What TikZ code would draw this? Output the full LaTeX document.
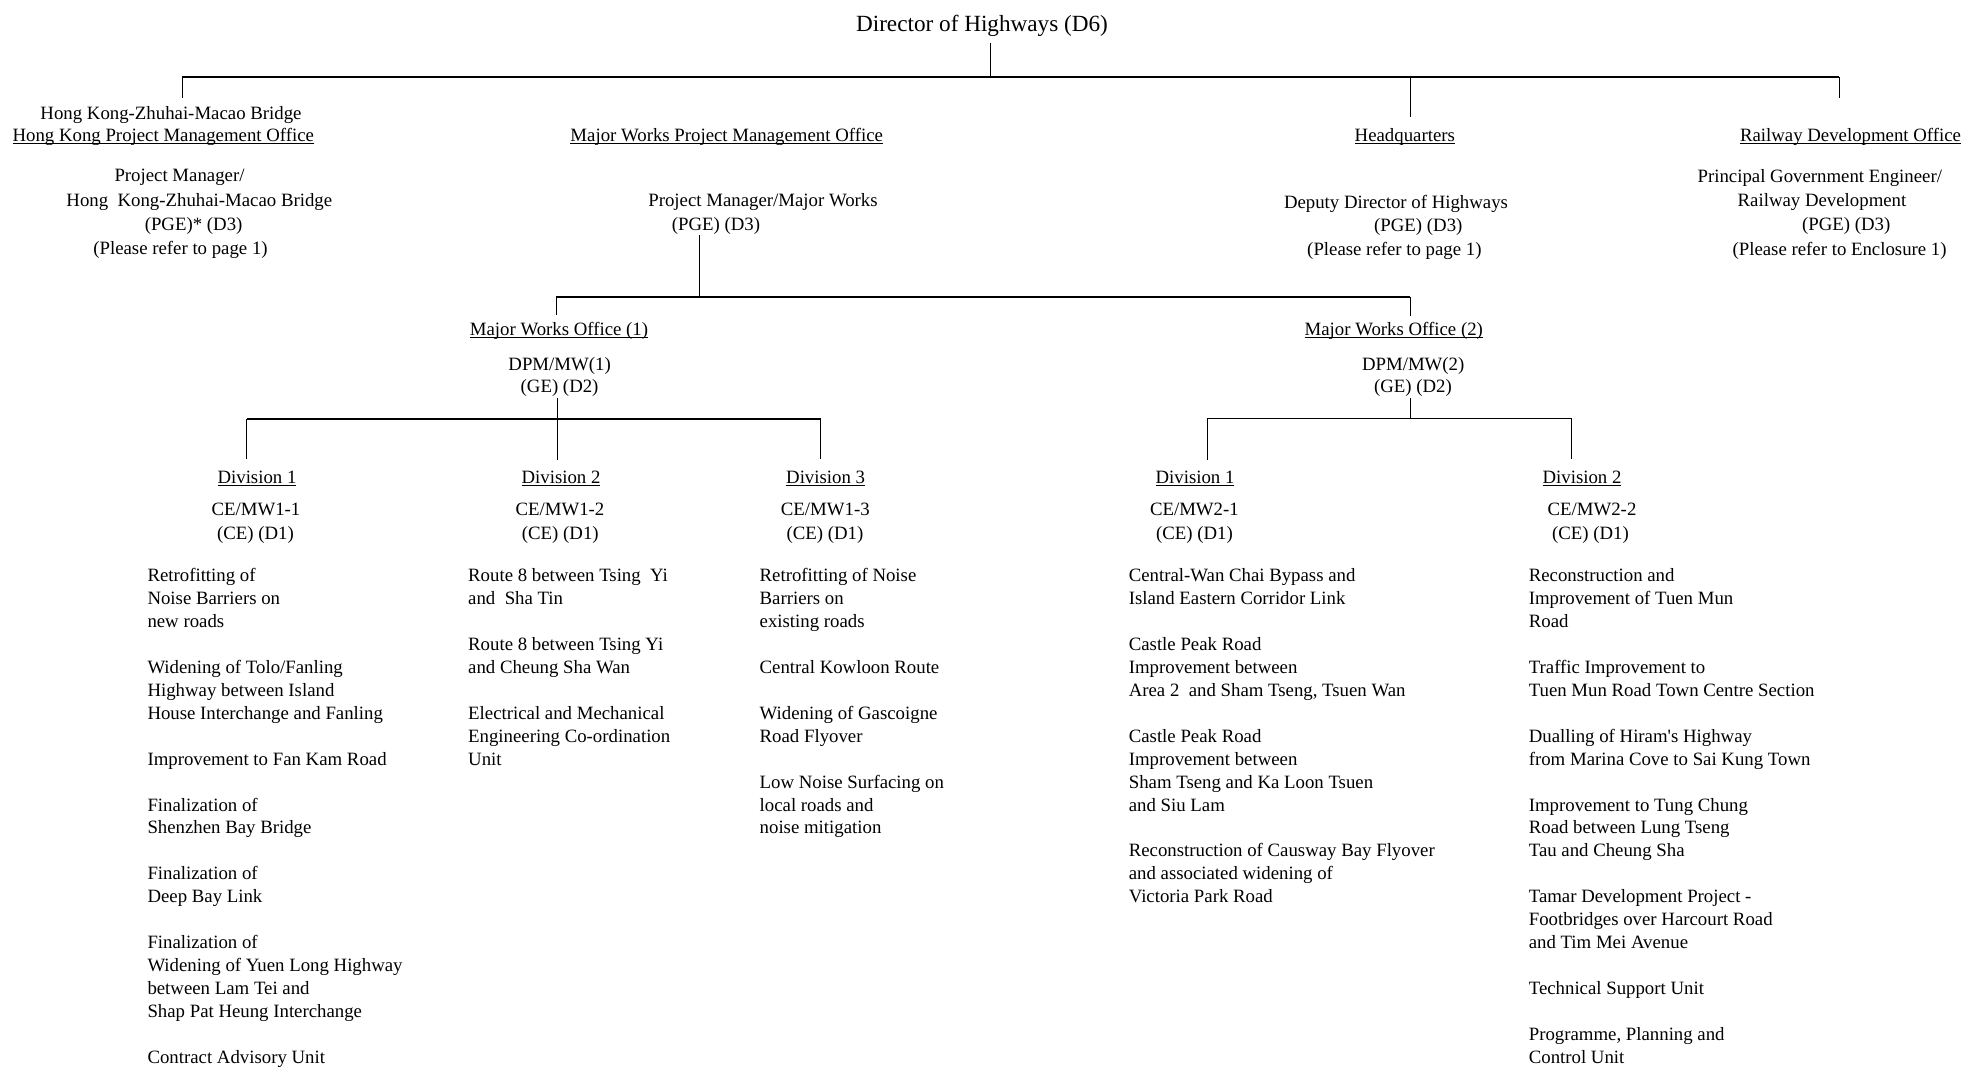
\documentclass[tikz,border=0pt]{standalone}
\usepackage{fontspec}
\setmainfont{Liberation Serif}
\newsavebox{\ulbox}
\newcommand{\undl}[1]{\sbox{\ulbox}{#1}\rlap{\rule[-2.4pt]{\wd\ulbox}{0.9pt}}\usebox{\ulbox}}
\newcommand{\itemlist}[1]{\parbox[t]{340pt}{\raggedright #1}}
\newcommand{\gap}{\\[22.93pt]}
\tikzset{
  hd/.style={anchor=base, inner sep=0pt, font=\fontsize{18.8}{22.93}\selectfont},
  lst/.style={anchor=base west, inner sep=0pt, font=\fontsize{18.8}{22.93}\selectfont},
  ttl/.style={anchor=base, inner sep=0pt, font=\fontsize{23.2}{28}\selectfont},
  bar/.style={line width=1.7pt},
  drop/.style={line width=1pt},
}
\begin{document}
\begin{tikzpicture}[x=1pt,y=-1pt]
\useasboundingbox (0,0) rectangle (1963,1066);
% title
\node[ttl] (d6) at (982,31.7) {Director of Highways (D6)};
% level 2 headers
\node[hd] (hk1) at (171,119.2) {Hong Kong-Zhuhai-Macao Bridge};
\node[hd] (hk2) at (163.3,141.5) {\undl{Hong Kong Project Management Office}};
\node[hd] (hk3) at (179.5,181.5) {Project Manager/};
\node[hd] (hk4) at (199.3,206.5) {Hong~ Kong-Zhuhai-Macao Bridge};
\node[hd] (hk5) at (193.6,230.5) {(PGE)* (D3)};
\node[hd] (hk6) at (180.5,254.8) {(Please refer to page 1)};
\node[hd] (mw1) at (726.7,141.5) {\undl{Major Works Project Management Office}};
\node[hd] (mw2) at (763,206.5) {Project Manager/Major Works};
\node[hd] (mw3) at (715.9,230.5) {(PGE) (D3)};
\node[hd] (hq1) at (1404.8,141.5) {\undl{Headquarters}};
\node[hd] (hq2) at (1396,208) {Deputy Director of Highways};
\node[hd] (hq3) at (1418.3,231.5) {(PGE) (D3)};
\node[hd] (hq4) at (1394.4,255.8) {(Please refer to page 1)};
\node[hd] (rd1) at (1850.5,141.5) {\undl{Railway Development Office}};
\node[hd] (rd2) at (1819.8,182.5) {Principal Government Engineer/};
\node[hd] (rd3) at (1822,206.5) {Railway Development};
\node[hd] (rd4) at (1846.2,230.5) {(PGE) (D3)};
\node[hd] (rd5) at (1839.6,255.8) {(Please refer to Enclosure 1)};
% major works offices
\node[hd] (o11) at (559,335.3) {\undl{Major Works Office (1)}};
\node[hd] (o12) at (559.6,370.3) {DPM/MW(1)};
\node[hd] (o13) at (559.6,392.8) {(GE) (D2)};
\node[hd] (o21) at (1393.8,335.3) {\undl{Major Works Office (2)}};
\node[hd] (o22) at (1413.2,370.3) {DPM/MW(2)};
\node[hd] (o23) at (1412.9,392.8) {(GE) (D2)};
% divisions
\node[hd] (d11a) at (257,483.8) {\undl{Division 1}};
\node[hd] (d11b) at (256,515.8) {CE/MW1-1};
\node[hd] (d11c) at (255.4,539.2) {(CE) (D1)};
\node[hd] (d12a) at (561,483.8) {\undl{Division 2}};
\node[hd] (d12b) at (560,515.8) {CE/MW1-2};
\node[hd] (d12c) at (560.3,539.2) {(CE) (D1)};
\node[hd] (d13a) at (825.6,483.8) {\undl{Division 3}};
\node[hd] (d13b) at (825.3,515.8) {CE/MW1-3};
\node[hd] (d13c) at (825,539.2) {(CE) (D1)};
\node[hd] (d21a) at (1195,483.8) {\undl{Division 1}};
\node[hd] (d21b) at (1194.4,515.8) {CE/MW2-1};
\node[hd] (d21c) at (1194.4,539.2) {(CE) (D1)};
\node[hd] (d22a) at (1582,483.8) {\undl{Division 2}};
\node[hd] (d22b) at (1592,515.8) {CE/MW2-2};
\node[hd] (d22c) at (1590.4,539.2) {(CE) (D1)};
% item lists
\node[lst] (l11) at (147.3,581.7) {\itemlist{Retrofitting of\\ Noise Barriers on\\ new roads\gap
Widening of Tolo/Fanling\\ Highway between Island\\ House Interchange and Fanling\gap
Improvement to Fan Kam Road\gap
Finalization of\\ Shenzhen Bay Bridge\gap
Finalization of\\ Deep Bay Link\gap
Finalization of\\ Widening of Yuen Long Highway\\ between Lam Tei and\\ Shap Pat Heung Interchange\gap
Contract Advisory Unit}};
\node[lst] (l12) at (468,581.7) {\itemlist{Route 8 between Tsing~ Yi\\ and~ Sha Tin\gap
Route 8 between Tsing Yi\\ and Cheung Sha Wan\gap
Electrical and Mechanical\\ Engineering Co-ordination\\ Unit}};
\node[lst] (l13) at (759.5,581.7) {\itemlist{Retrofitting of Noise\\ Barriers on\\ existing roads\gap
Central Kowloon Route\gap
Widening of Gascoigne\\ Road Flyover\gap
Low Noise Surfacing on\\ local roads and\\ noise mitigation}};
\node[lst] (l21) at (1128.6,581.7) {\itemlist{Central-Wan Chai Bypass and\\ Island Eastern Corridor Link\gap
Castle Peak Road\\ Improvement between\\ Area 2~ and Sham Tseng, Tsuen Wan\gap
Castle Peak Road\\ Improvement between\\ Sham Tseng and Ka Loon Tsuen\\ and Siu Lam\gap
Reconstruction of Causway Bay Flyover\\ and associated widening of\\ Victoria Park Road}};
\node[lst] (l22) at (1528.6,581.7) {\itemlist{Reconstruction and\\ Improvement of Tuen Mun\\ Road\gap
Traffic Improvement to\\ Tuen Mun Road Town Centre Section\gap
Dualling of Hiram\textquotesingle s Highway\\ from Marina Cove to Sai Kung Town\gap
Improvement to Tung Chung\\ Road between Lung Tseng\\ Tau and Cheung Sha\gap
Tamar Development Project -\\ Footbridges over Harcourt Road\\ and Tim Mei Avenue\gap
Technical Support Unit\gap
Programme, Planning and\\ Control Unit}};
% connector points
\coordinate (d6b) at (990,42.7);
\coordinate (d6j) at (990,77.3);
\coordinate (hkj) at (182,77.3);
\coordinate (hkt) at (182,97.7);
\coordinate (hqj) at (1410,77.3);
\coordinate (hqt) at (1410,116.7);
\coordinate (rdj) at (1839.3,77.3);
\coordinate (rdt) at (1839.3,97.5);
\coordinate (mwb) at (699.3,235);
\coordinate (mwj) at (699.3,297.3);
\coordinate (o1j) at (556,297.3);
\coordinate (o1t) at (556,315);
\coordinate (o2j) at (1410,297.3);
\coordinate (o2t) at (1410,316);
\coordinate (o1b) at (557.7,398.3);
\coordinate (d12t) at (557.7,460);
\coordinate (d11j) at (246.8,419);
\coordinate (d11t) at (246.8,459);
\coordinate (d13j) at (820.8,419);
\coordinate (d13t) at (820.8,459);
\coordinate (o2b) at (1410,398.3);
\coordinate (o2m) at (1410,418.5);
\coordinate (d21j) at (1207,418.5);
\coordinate (d21t) at (1207,460);
\coordinate (d22j) at (1571.5,418.5);
\coordinate (d22t) at (1571.5,459);
% top level
\draw[drop] (d6b) -- (d6j);
\draw[bar] (hkj) -- (rdj);
\draw[drop] (hkj) -- (hkt);
\draw[drop] (hqj) -- (hqt);
\draw[drop] (rdj) -- (rdt);
% major works
\draw[drop] (mwb) -- (mwj);
\draw[bar] (o1j) -- (o2j);
\draw[drop] (o1j) -- (o1t);
\draw[drop] (o2j) -- (o2t);
% office 1
\draw[drop] (o1b) -- (d12t);
\draw[bar] (d11j) -- (d13j);
\draw[drop] (d11j) -- (d11t);
\draw[drop] (d13j) -- (d13t);
% office 2
\draw[drop] (o2b) -- (o2m);
\draw[bar] (d21j) -- (d22j);
\draw[drop] (d21j) -- (d21t);
\draw[drop] (d22j) -- (d22t);
\end{tikzpicture}
\end{document}
